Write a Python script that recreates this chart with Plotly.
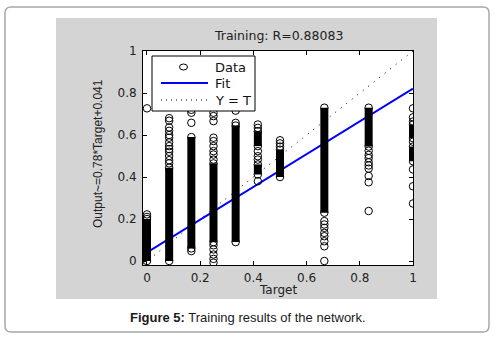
import plotly.graph_objects as go

# ---------------- data ----------------
tick_vals = [0, 0.2, 0.4, 0.6, 0.8, 1]
tick_text = ["0", "0.2", "0.4", "0.6", "0.8", "1"]

# dense (solid) runs of overlapping circles: target, low output, high output
band_t = [0.0, 0.0833, 0.1667, 0.25, 0.3333, 0.4167, 0.4167, 0.5, 0.6667, 0.8333, 1.0, 1.0]
band_lo = [0.0, 0.0, 0.06, 0.09, 0.09, 0.547, 0.412, 0.40, 0.23, 0.545, 0.585, 0.475]
band_hi = [0.20, 0.444, 0.59, 0.465, 0.645, 0.618, 0.46, 0.53, 0.73, 0.73, 0.65, 0.545]

# individual (separately visible) circles
pts_t = ([0.0] * 3 + [0.0833] * 13 + [0.1667] * 4 + [0.25] * 14 + [0.3333] * 2
         + [0.4167] * 6 + [0.5] * 3 + [0.6667] * 8 + [0.8333] * 9 + [1.0] * 7)
pts_y = [0.222, 0.21, 0.727,
         0.68, 0.668, 0.636, 0.62, 0.60, 0.587, 0.565, 0.547, 0.533, 0.52, 0.50, 0.48, 0.465,
         0.72, 0.706, 0.658, 0.047,
         0.706, 0.69, 0.666, 0.587, 0.571, 0.547, 0.523, 0.507, 0.483, 0.075, 0.055, 0.031, 0.01, -0.008,
         0.716, 0.658,
         0.65, 0.634, 0.523, 0.499, 0.483, 0.38,
         0.575, 0.56, 0.545,
         0.19, 0.174, 0.158, 0.134, 0.118, 0.094, 0.07, 0.0,
         0.525, 0.505, 0.49, 0.47, 0.455, 0.44, 0.405, 0.375, 0.238,
         0.727, 0.684, 0.664, 0.568, 0.436, 0.356, 0.274]

fit_slope = 0.78
fit_intercept = 0.041
x_limits = [-0.015, 1.0]
y_limits = [-0.019, 1.0]

title_text = "Training: R=0.88083"
x_label = "Target"
y_label = "Output~=0.78*Target+0.041"
legend_labels = ["Data", "Fit", "Y = T"]
caption_bold = "Figure 5:"
caption_rest = " Training results of the network."

# ---------------- layout helpers (pixels -> paper) ----------------
W, H = 496, 342
L, R, T, B = 143, 413, 51, 265


def px(x):
    return (x - L) / (R - L)


def py(y):
    return (B - y) / (B - T)


fig = go.Figure()

# Y = T reference line
fig.add_trace(go.Scatter(x=x_limits, y=x_limits, mode="lines",
                         line=dict(color="black", width=1, dash="1px,6px"),
                         hoverinfo="skip", showlegend=False))
# fit line
fit_y = [fit_slope * v + fit_intercept for v in x_limits]
fig.add_trace(go.Scatter(x=x_limits, y=fit_y, mode="lines",
                         line=dict(color="#0000ff", width=2),
                         hoverinfo="skip", showlegend=False))

# dense bands
bx, by = [], []
for t, lo, hi in zip(band_t, band_lo, band_hi):
    bx += [t, t, None]
    by += [lo, hi, None]
fig.add_trace(go.Scatter(x=bx, y=by, mode="lines+markers",
                         line=dict(color="black", width=8),
                         marker=dict(symbol="circle-open", size=7.5, color="black",
                                     line=dict(width=1)),
                         showlegend=False))
# individual points
fig.add_trace(go.Scatter(x=pts_t, y=pts_y, mode="markers",
                         marker=dict(symbol="circle-open", size=7.5, color="black",
                                     line=dict(width=1)),
                         showlegend=False))

tick_font = dict(family="DejaVu Sans", size=12, color="#222222")
axis_common = dict(showgrid=False, zeroline=False, showline=True, linecolor="black",
                   linewidth=1, mirror="ticks", ticks="inside", ticklen=4,
                   tickcolor="black", tickwidth=1, tickvals=tick_vals, ticktext=tick_text,
                   tickfont=tick_font, fixedrange=True)

fig.update_layout(
    width=W, height=H,
    margin=dict(l=L, r=W - R, t=T, b=H - B, pad=0),
    paper_bgcolor="white",
    plot_bgcolor="rgba(0,0,0,0)",
    xaxis=dict(range=x_limits, ticklabelstandoff=2, **axis_common),
    yaxis=dict(range=y_limits, ticklabelstandoff=3, **axis_common),
    showlegend=False,
)

shapes = []
# page border with rounded corners
x0, y0, x1, y1, r = px(5), py(7), px(489), py(332), 6
rx, ry = r / (R - L), r / (B - T)
path = (f"M {x0 + rx},{y0} L {x1 - rx},{y0} Q {x1},{y0} {x1},{y0 - ry} "
        f"L {x1},{y1 + ry} Q {x1},{y1} {x1 - rx},{y1} L {x0 + rx},{y1} "
        f"Q {x0},{y1} {x0},{y1 + ry} L {x0},{y0 - ry} Q {x0},{y0} {x0 + rx},{y0} Z")
shapes.append(dict(type="path", xref="paper", yref="paper", path=path,
                   line=dict(color="#a8a8a8", width=1.5), layer="below"))
# gray figure area
shapes.append(dict(type="rect", xref="paper", yref="paper",
                   x0=px(56), x1=px(437), y0=py(18), y1=py(299),
                   fillcolor="#d4d4d4", line=dict(width=0), layer="below"))
# white axes area
shapes.append(dict(type="rect", xref="paper", yref="paper",
                   x0=0, x1=1, y0=0, y1=1,
                   fillcolor="white", line=dict(width=0), layer="below"))
# legend box
shapes.append(dict(type="rect", xref="paper", yref="paper",
                   x0=px(152), x1=px(255), y0=py(56), y1=py(111),
                   fillcolor="white", line=dict(color="black", width=1)))
# legend: circle
shapes.append(dict(type="circle", xref="paper", yref="paper",
                   x0=px(179.5), x1=px(187.5), y0=py(64), y1=py(70),
                   line=dict(color="black", width=1)))
# legend: fit line
shapes.append(dict(type="line", xref="paper", yref="paper",
                   x0=px(161), x1=px(208), y0=py(83), y1=py(83),
                   line=dict(color="#0000ff", width=2)))
# legend: Y=T dotted
shapes.append(dict(type="line", xref="paper", yref="paper",
                   x0=px(161), x1=px(208), y0=py(100), y1=py(100),
                   line=dict(color="black", width=1, dash="1px,4px")))
fig.update_layout(shapes=shapes)

ann = []
legend_y = [67, 83, 100]
for lbl, yy in zip(legend_labels, legend_y):
    ann.append(dict(text=lbl, x=px(212.5), y=py(yy), xref="paper", yref="paper",
                    xanchor="left", yanchor="middle", showarrow=False,
                    font=dict(family="DejaVu Sans", size=13, color="#111111")))
ann.append(dict(text=title_text, x=px(278), y=py(35), xref="paper", yref="paper",
                xanchor="center", yanchor="middle", showarrow=False,
                font=dict(family="DejaVu Sans", size=12.5, color="#222222")))
ann.append(dict(text=x_label, x=px(278), y=py(290), xref="paper", yref="paper",
                xanchor="center", yanchor="middle", showarrow=False,
                font=dict(family="DejaVu Sans", size=12, color="#222222")))
ann.append(dict(text=y_label, x=px(98), y=py(154), xref="paper", yref="paper",
                xanchor="center", yanchor="middle", showarrow=False, textangle=-90,
                font=dict(family="Liberation Sans", size=12, color="#222222")))
ann.append(dict(text=f"<b>{caption_bold}</b>{caption_rest}", x=px(248), y=py(317),
                xref="paper", yref="paper", xanchor="center", yanchor="middle",
                showarrow=False,
                font=dict(family="Liberation Sans", size=13, color="#1a1a1a")))
fig.update_layout(annotations=ann)

fig.write_html("out.html", config={"displayModeBar": False, "staticPlot": True},
               post_script="document.body.style.margin='0';")
